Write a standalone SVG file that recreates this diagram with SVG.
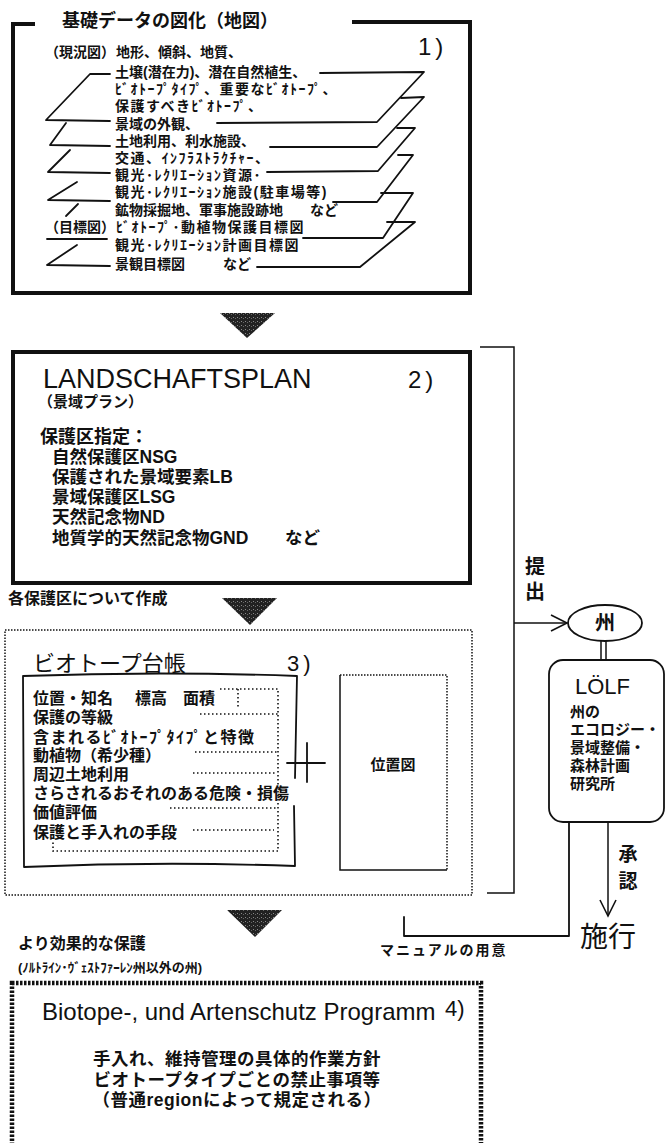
<svg xmlns="http://www.w3.org/2000/svg" width="666" height="1143" viewBox="0 0 666 1143">
<defs>
<style>
.jp{font-family:"Liberation Sans","Noto Sans CJK JP",sans-serif;font-weight:700;fill:#111}
.jpn{font-family:"Liberation Sans","Noto Sans CJK JP",sans-serif;font-weight:400;fill:#111}
.lat{font-family:"Liberation Sans","Noto Sans CJK JP",sans-serif;fill:#111}
.latb{font-family:"Liberation Sans","Noto Sans CJK JP",sans-serif;font-weight:700;fill:#111}
.hk{letter-spacing:1.5px}
.ln{fill:none;stroke:#111;stroke-width:1.8;stroke-linejoin:round;stroke-linecap:round}
.thin{fill:none;stroke:#111;stroke-width:1.5}
.thick{fill:none;stroke:#111;stroke-width:4}
.dot{fill:none;stroke:#111;stroke-width:1.6;stroke-dasharray:1.5 2.5}
.odot{fill:none;stroke:#111;stroke-width:1.5;stroke-dasharray:1.5 1.5}
.hatch{fill:none;stroke:#111;stroke-width:4.5;stroke-dasharray:2.5 1.5}
.tri{fill:url(#dith)}
</style>
<pattern id="dith" width="4" height="4" patternUnits="userSpaceOnUse">
<rect width="4" height="4" fill="#222"/>
<rect x="1" y="1" width="1" height="1" fill="#888"/>
<rect x="3" y="2" width="1" height="1" fill="#666"/>
</pattern>
<marker id="v" viewBox="0 0 20 20" refX="18" refY="10" markerWidth="20" markerHeight="20" markerUnits="userSpaceOnUse" orient="auto">
<path d="M2,2 L18,10 L2,18" fill="none" stroke="#111" stroke-width="1.6"/>
</marker>
</defs>
<rect width="666" height="1143" fill="#fff"/>

<g id="node-basic-data">
<path class="thick" d="M35,24 L13,24 L13,293 L470,293 L470,22 L352,22"/>
<text class="jp" x="62" y="27" font-size="18">基礎データの図化（地図）</text>
<text class="lat" x="418" y="55" font-size="24" letter-spacing="4">1)</text>
<g class="ln">
<path d="M110,74 L90,74 L46,120 L110,121"/>
<path d="M66,123 L50,145 L110,146"/>
<path d="M70,150 L48,172 L110,173"/>
<path d="M77,182 L48,200 L110,201"/>
<path d="M78,204 L66,216"/>
<path d="M47,239 L107,239"/>
<path d="M77,245 L47,265 L110,266"/>
<path d="M320,73 L424,72 L377,122 L217,123"/>
<path d="M401,98 L424,97 L377,147 L270,147"/>
<path d="M397,128 L415,128 L378,171 L267,172"/>
<path d="M398,155 L413,155 L377,202 L333,202"/>
<path d="M381,193 L413,193 L383,238 L303,238"/>
<path d="M387,222 L415,222 L360,267 L257,267"/>
</g>
<g class="jp" font-size="14">
<text x="45" y="57">（現況図）<tspan x="116">地形、傾斜、地質、</tspan></text>
<text x="115" y="77">土壌(潜在力)、潜在自然植生、</text>
<text class="hk" x="115" y="94">ﾋﾞｵﾄｰﾌﾟﾀｲﾌﾟ、重要なﾋﾞｵﾄｰﾌﾟ、</text>
<text class="hk" x="115" y="111">保護すべきﾋﾞｵﾄｰﾌﾟ、</text>
<text x="115" y="129">景域の外観、</text>
<text x="115" y="146">土地利用、利水施設、</text>
<text class="hk" x="115" y="163">交通、ｲﾝﾌﾗｽﾄﾗｸﾁｬｰ、</text>
<text class="hk" x="115" y="180">観光･ﾚｸﾘｴｰｼｮﾝ資源･</text>
<text class="hk" x="115" y="197">観光･ﾚｸﾘｴｰｼｮﾝ施設(駐車場等)</text>
<text x="115" y="215">鉱物採掘地、軍事施設跡地<tspan x="310">など</tspan></text>
<text x="45" y="232">（目標図）<tspan class="hk" x="116">ﾋﾞｵﾄｰﾌﾟ･動植物保護目標図</tspan></text>
<text class="hk" x="115" y="250">観光･ﾚｸﾘｴｰｼｮﾝ計画目標図</text>
<text x="115" y="269">景観目標図<tspan x="223">など</tspan></text>
</g>
</g>

<g id="node-landschaftsplan">
<rect class="thick" x="13" y="352" width="457" height="231"/>
<text class="lat" x="43" y="388" font-size="27">LANDSCHAFTSPLAN</text>
<text class="lat" x="408" y="388" font-size="24" letter-spacing="4">2)</text>
<text class="jp" x="38" y="407" font-size="15">（景域プラン）</text>
<text class="jp" x="40" y="443" font-size="18">保護区指定：</text>
<g class="latb" font-size="17.5">
<text x="52" y="463">自然保護区NSG</text>
<text x="52" y="483">保護された景域要素LB</text>
<text x="52" y="503">景域保護区LSG</text>
<text x="52" y="523">天然記念物ND</text>
<text x="52" y="544">地質学的天然記念物GND<tspan x="285">など</tspan></text>
</g>
</g>

<g id="node-biotope-register">
<rect class="odot" x="5" y="630" width="467" height="265"/>
<text class="jpn" x="33" y="671" font-size="22">ビオトープ台帳</text>
<text class="lat" x="287" y="671" font-size="22" letter-spacing="4">3)</text>
<path class="ln" stroke-width="2" d="M23,676 Q160,671 297,676 L295,778 M294,806 L295,866 Q160,861 24,867 L23,676"/>
<g class="jp" font-size="16">
<text x="33" y="704">位置・知名<tspan x="135">標高</tspan><tspan x="183">面積</tspan></text>
<text x="33" y="723">保護の等級</text>
<text class="hk" x="33" y="743">含まれるﾋﾞｵﾄｰﾌﾟﾀｲﾌﾟと特徴</text>
<text x="33" y="761">動植物（希少種）</text>
<text x="33" y="780">周辺土地利用</text>
<text x="33" y="799">さらされるおそれのある危険・損傷</text>
<text x="33" y="818">価値評価</text>
<text x="33" y="838">保護と手入れの手段</text>
</g>
<g class="dot">
<path d="M220,689 L278,689 L278,851 L53,851 L53,840"/>
<path d="M238,689 L238,708"/>
<path d="M200,714 L278,714"/>
<path d="M195,752 L278,752"/>
<path d="M193,773 L276,773"/>
<path d="M170,808 L276,808"/>
<path d="M193,830 L274,830"/>
</g>
<path class="ln" stroke-width="2.5" d="M307,743 L307,782 M287,763 L325,763"/>
</g>

<g id="node-location-map">
<path class="thin" d="M340,675 L340,870 L447,870"/>
<path class="odot" d="M340,675 L447,675 L447,870"/>
<text class="jp" x="393" y="770" font-size="15" text-anchor="middle">位置図</text>
</g>

<g id="node-state">
<ellipse cx="605" cy="623" rx="37" ry="18" class="ln" stroke-width="2"/>
<text class="jp" x="605" y="630" font-size="20" text-anchor="middle">州</text>
</g>

<g id="node-lolf">
<rect x="549" y="660" width="115" height="162" rx="14" class="ln" stroke-width="2"/>
<text class="lat" x="575" y="694" font-size="22">LÖLF</text>
<g class="jp" font-size="15">
<text x="570" y="717">州の</text>
<text x="570" y="735">エコロジー・</text>
<text x="570" y="753">景域整備・</text>
<text x="570" y="771">森林計画</text>
<text x="570" y="789">研究所</text>
</g>
</g>

<g id="node-enforcement">
<text class="jpn" x="580" y="947" font-size="28">施行</text>
</g>

<g id="node-bap">
<rect class="hatch" x="12" y="983" width="469" height="180"/>
<text class="lat" x="42" y="1020" font-size="24">Biotope-, und Artenschutz Programm</text>
<text class="lat" x="445" y="1016" font-size="22">4)</text>
<g class="latb" font-size="17.5" letter-spacing="0.5" text-anchor="middle">
<text x="237" y="1065">手入れ、維持管理の具体的作業方針</text>
<text x="237" y="1086">ビオトープタイプごとの禁止事項等</text>
<text x="237" y="1106">（普通regionによって規定される）</text>
</g>
</g>

<g id="connectors">
<path class="tri" d="M220,313 L275,313 L247,338 Z"/>
<path class="tri" d="M222,598 L277,598 L250,625 Z"/>
<path class="tri" d="M227,910 L282,910 L255,937 Z"/>
<path class="thin" d="M480,347 L514,347 L514,893 L487,893"/>
<path class="thin" d="M514,623 L567,623" marker-end="url(#v)"/>
<path class="thin" d="M601,641 L601,660 M606,641 L606,660"/>
<path class="thin" d="M608,822 L608,916" marker-end="url(#v)"/>
<path class="ln" stroke-width="2" stroke-linecap="butt" d="M569,822 L569,936 L404,936 L404,917"/>
<text class="jp" font-size="20" text-anchor="middle"><tspan x="535" y="574">提</tspan><tspan x="535" y="599">出</tspan></text>
<text class="jp" font-size="19" text-anchor="middle"><tspan x="628" y="861">承</tspan><tspan x="628" y="888">認</tspan></text>
<text class="jp" x="8" y="604" font-size="16">各保護区について作成</text>
<text class="jp" x="18" y="949" font-size="16">より効果的な保護</text>
<text class="jp" x="18" y="972" font-size="13">(ﾉﾙﾄﾗｲﾝ･ｳﾞｪｽﾄﾌｧｰﾚﾝ州以外の州)</text>
<text class="jp" x="380" y="955" font-size="14" letter-spacing="2">マニュアルの用意</text>
</g>
</svg>
